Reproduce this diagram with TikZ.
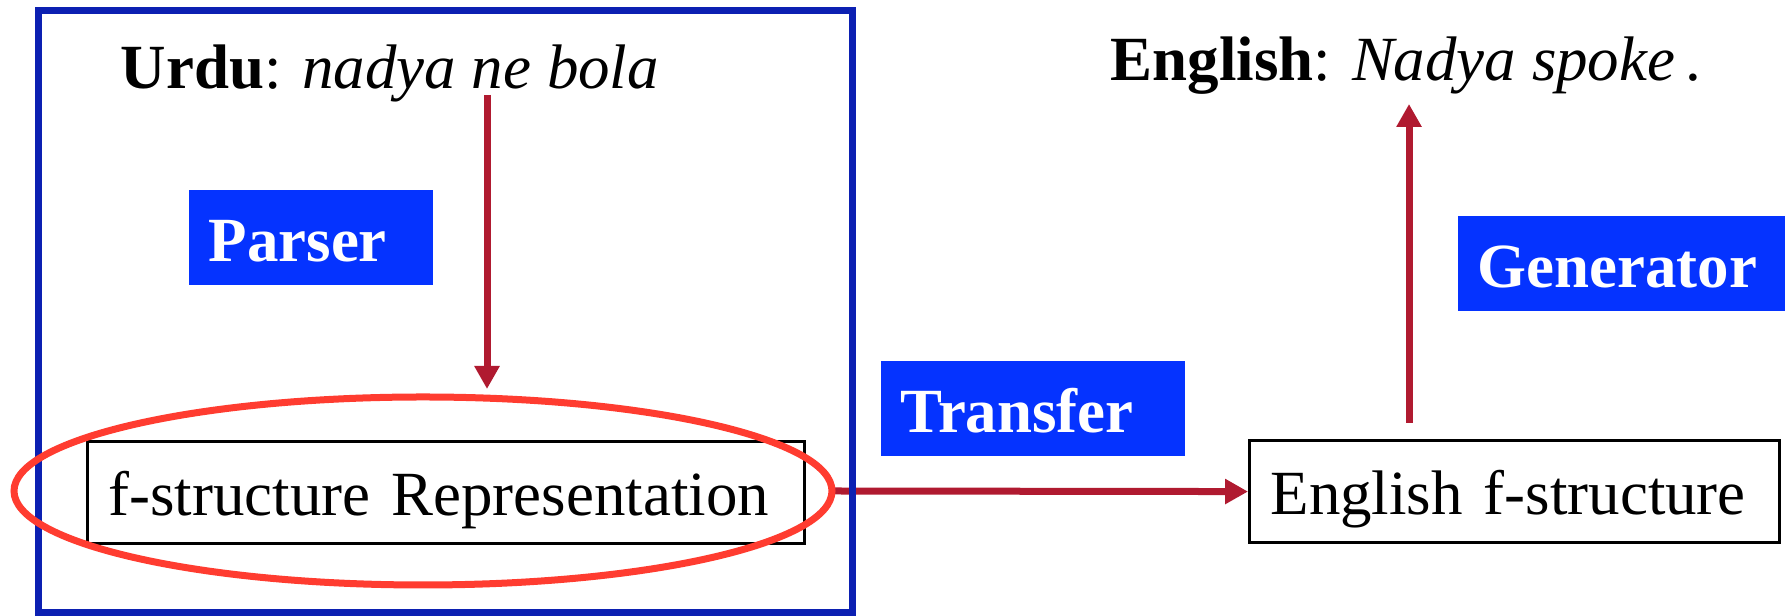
\documentclass[tikz,border=0pt]{standalone}
\usepackage{fontspec}
\setmainfont{Liberation Serif}
\usepackage{tikz}
\usetikzlibrary{arrows.meta,shapes.geometric}
\definecolor{framec}{RGB}{12,32,178}
\definecolor{stagec}{RGB}{5,51,255}
\definecolor{flowc}{RGB}{176,26,48}
\definecolor{ringc}{RGB}{255,60,48}

\begin{document}
\begin{tikzpicture}[
		font=\fontsize{17.9pt}{21pt}\selectfont,
		stage/.style={fill=stagec, text=white, font=\fontsize{17.9pt}{21pt}\selectfont\bfseries,
			anchor=north west, align=left, inner xsep=0.2cm, inner ysep=0pt,
			text height=0.72cm, text depth=0.23cm},
		fsbox/.style={draw, line width=0.9pt, anchor=north west, align=left,
			inner xsep=0.21cm, inner ysep=0pt, text height=0.74cm, text depth=0.28cm},
		flow/.style={draw=flowc, line width=0.07cm, -{Triangle[length=0.23cm,width=0.24cm]}}
	]
		\useasboundingbox (0,0) rectangle (17.85,6.16);

		% sentences
		\node[anchor=base west, inner sep=0] (urdu) at (1.20,5.27) {\textbf{Urdu}: \textit{nadya ne bola}};
		\node[anchor=base west, inner sep=0] (english) at (11.10,5.35) {\textbf{English}: \textit{Nadya spoke}\,.};

		% f-structures
		\node[fsbox, text width=6.75cm] (fsrep) at (0.86,1.76) {f-structure Representation};
		\node[fsbox, text width=4.88cm] (engfs) at (12.48,1.77) {English f-structure};

		% stages
		\node[stage, text width=2.04cm] (parser) at (1.88,4.27) {Parser};
		\node[stage, text width=2.64cm] (transfer) at (8.80,2.56) {Transfer};
		\node[stage, text width=2.88cm] (generator) at (14.57,4.01) {Generator};

		\node[ellipse, minimum width=8.18cm, minimum height=1.88cm, inner sep=0] (ring) at (4.23,1.25) {};

		% arrows
		\coordinate (parsefrom) at (4.87,5.21);
		\coordinate (parseto) at (4.87,2.27);
		\coordinate (genfrom) at (14.09,1.93);
		\coordinate (gento) at (14.09,5.12);
		\draw[flow] (parsefrom) -- (parseto);
		\draw[flow] (ring.east) -- (engfs.west);
		\draw[flow] (genfrom) -- (gento);

		% urdu side
		\draw[framec, line width=0.07cm] (0.385,0.03) rectangle (8.52,6.055);
		\draw[ringc, line width=0.07cm] (ring.center) ellipse [x radius=4.09cm, y radius=0.94cm];
	\end{tikzpicture}
\end{document}
